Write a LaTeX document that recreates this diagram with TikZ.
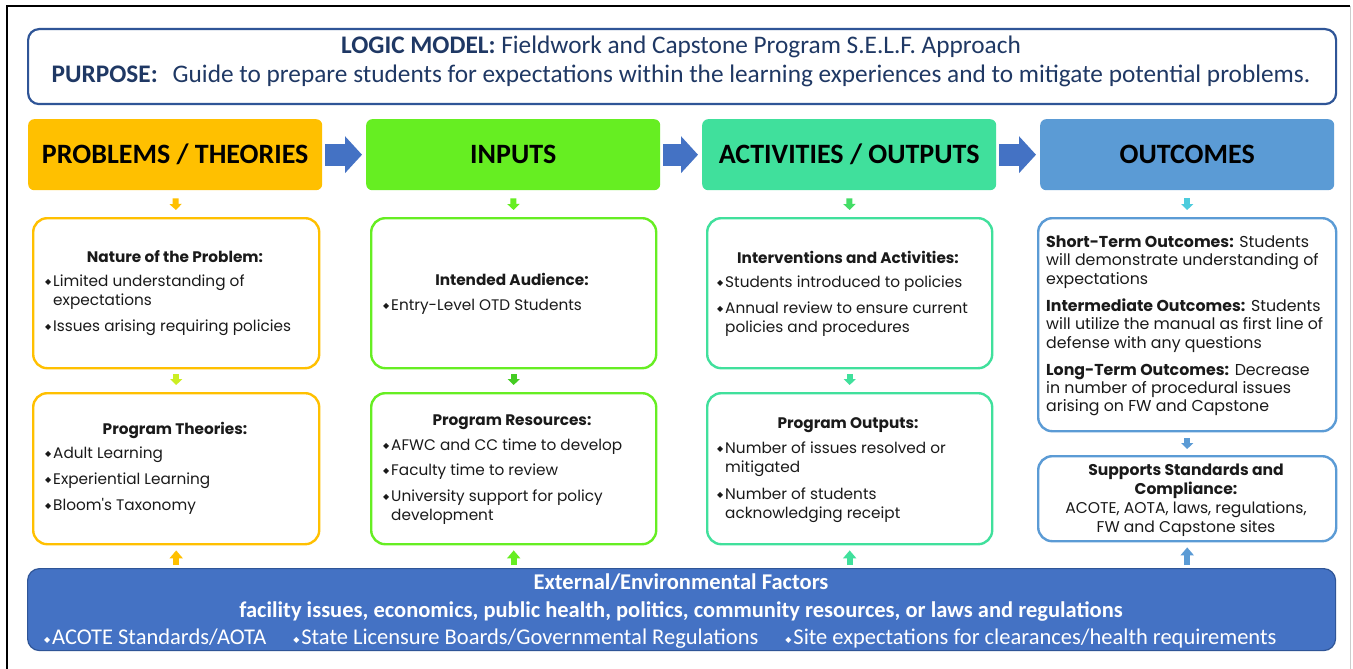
\documentclass[tikz,border=0pt]{standalone}
\usepackage{fontspec}
\setmainfont{Carlito}
\newfontfamily\bodyf{Poppins}
\newfontfamily\symf{DejaVu Sans}
\usetikzlibrary{arrows.meta}
\definecolor{tborder}{HTML}{2F5597}
\definecolor{ttext}{HTML}{1F3864}
\definecolor{cOrange}{HTML}{FFC000}
\definecolor{cGreen}{HTML}{66EE22}
\definecolor{cTeal}{HTML}{40E09C}
\definecolor{cBlue}{HTML}{5B9BD5}
\definecolor{cDark}{HTML}{4472C4}
\definecolor{cYG}{HTML}{CCEE22}
\definecolor{cG2}{HTML}{44CC22}
\definecolor{cG3}{HTML}{44DD66}
\definecolor{cCyan}{HTML}{4DCCDD}
\definecolor{txt}{HTML}{1A1A1A}
\newcommand\bl{\makebox[8pt][l]{\raisebox{1.3pt}{\symf\fontsize{8}{8}\selectfont ◆}}}
\newcommand\ind{\hspace*{8pt}}
\newcommand\tl[1]{\begin{tabular}[t]{@{}l@{}}#1\end{tabular}}
\newcommand\tc[1]{\begin{tabular}[t]{@{}c@{}}#1\end{tabular}}
\tikzset{
  header/.style={fill=#1, rounded corners=6, minimum width=294, minimum height=71, anchor=north west, inner sep=0,
    font=\fontsize{28}{30}\selectfont\bfseries, text=black},
  cbox/.style={draw=#1, line width=2.4, rounded corners=14, fill=white, anchor=north west, inner sep=0},
  btxt/.style={font=\bodyf\fontsize{15.3}{19}\selectfont, text=txt, inner sep=0},
  bhead/.style={font=\bodyf\fontsize{15.3}{19}\selectfont\bfseries, text=txt, inner sep=0},
  bigarr/.style={draw=cDark, line width=22, -{Triangle[width=36pt,length=17pt]}, shorten <=3pt, shorten >=4pt},
  smarr/.style={draw=#1, line width=6, -{Triangle[width=12pt,length=6pt]}},
  uparr/.style={draw=#1, line width=6, -{Triangle[width=13pt,length=8pt]}, shorten <=3pt, shorten >=5pt},
}
\begin{document}
\begin{tikzpicture}[x=1pt,y=-1pt]
\useasboundingbox (0,0) rectangle (1353,669);
\fill[white] (0,0) rectangle (1353,669);
\draw[black, line width=1.6] (7,669) -- (7,6) -- (1350,6);
\draw[black!20, line width=0.8] (1350,6) -- (1350,669);

% title
\node[draw=tborder, line width=2.2, rounded corners=11, minimum width=1308, minimum height=75, anchor=north west, inner sep=0] (title) at (27,28) {};
\node[text=ttext, font=\fontsize{25.3}{28}\selectfont, anchor=base] (t1) at (681,54) {\textbf{LOGIC MODEL:} Fieldwork and Capstone Program S.E.L.F. Approach};
\node[text=ttext, font=\fontsize{25.3}{28}\selectfont, anchor=base] (t2) at (681,83) {\textbf{PURPOSE:}\hspace{15pt}Guide to prepare students for expectations within the learning experiences and to mitigate potential problems.};

% headers
\node[header=cOrange] (h1) at (28,119) {PROBLEMS / THEORIES};
\node[header=cGreen] (h2) at (366,119) {INPUTS};
\node[header=cTeal] (h3) at (702,119) {ACTIVITIES / OUTPUTS};
\node[header=cBlue] (h4) at (1040,119) {OUTCOMES};
\draw[bigarr] (h1.east) -- (h2.west);
\draw[bigarr] (h2.east) -- (h3.west);
\draw[bigarr] (h3.east) -- (h4.west);

% row 1
\node[cbox=cOrange, minimum width=286, minimum height=150] (b1) at (32,217) {};
\node[cbox=cGreen, minimum width=285, minimum height=150] (b2) at (370,217) {};
\node[cbox=cTeal, minimum width=285, minimum height=150] (b3) at (706,217) {};
\node[cbox=cBlue, minimum width=298, minimum height=213] (b4) at (1037,217) {};
% row 2
\node[cbox=cOrange, minimum width=286, minimum height=151] (c1) at (32,392) {};
\node[cbox=cGreen, minimum width=285, minimum height=151] (c2) at (370,392) {};
\node[cbox=cTeal, minimum width=285, minimum height=151] (c3) at (706,392) {};
\node[cbox=cBlue, minimum width=298, minimum height=85] (c4) at (1037,455) {};

% bottom
\node[draw=tborder, fill=cDark, line width=1.2, rounded corners=12, minimum width=1308, minimum height=82, anchor=north west, inner sep=0] (ext) at (27,568) {};

% small arrows
\draw[smarr=cOrange, shorten <=8pt, shorten >=7pt] (h1.south) -- (b1.north);
\draw[smarr=cGreen, shorten <=8pt, shorten >=7pt] (h2.south) -- (b2.north);
\draw[smarr=cG3, shorten <=8pt, shorten >=7pt] (h3.south) -- (b3.north);
\draw[smarr=cCyan, shorten <=8pt, shorten >=7pt] (h4.south) -- (b4.north);
\draw[smarr=cYG, shorten <=5pt, shorten >=7pt] (b1.south) -- (c1.north);
\draw[smarr=cG2, shorten <=5pt, shorten >=7pt] (b2.south) -- (c2.north);
\draw[smarr=cTeal, shorten <=5pt, shorten >=7pt] (b3.south) -- (c3.north);
\draw[smarr=cBlue, shorten <=6pt, shorten >=6pt] (b4.south) -- (c4.north);
\draw[uparr=cOrange] (ext.north -| c1.south) -- (c1.south);
\draw[uparr=cGreen] (ext.north -| c2.south) -- (c2.south);
\draw[uparr=cTeal] (ext.north -| c3.south) -- (c3.south);
\draw[uparr=cBlue] (ext.north -| c4.south) -- (c4.south);

% texts column 1
\node[bhead, anchor=base] (b1h) at (175,262) {Nature of the Problem:};
\node[btxt, anchor=base west] (b1t) at (45,286) {\tl{\bl Limited understanding of\\\ind expectations\\[7pt]\bl Issues arising requiring policies}};
\node[bhead, anchor=base] (c1h) at (175,434) {Program Theories:};
\node[btxt, anchor=base west] (c1t) at (45,458) {\tl{\bl Adult Learning\\[7pt]\bl Experiential Learning\\[7pt]\bl Bloom's Taxonomy}};
% column 2
\node[bhead, anchor=base] (b2h) at (512,285) {Intended Audience:};
\node[btxt, anchor=base west] (b2t) at (383,310) {\tl{\bl Entry-Level OTD Students}};
\node[bhead, anchor=base] (c2h) at (512,425) {Program Resources:};
\node[btxt, anchor=base west] (c2t) at (383,450) {\tl{\bl AFWC and CC time to develop\\[6pt]\bl Faculty time to review\\[7pt]\bl University support for policy\\\ind development}};
% column 3
\node[bhead, anchor=base] (b3h) at (848,263) {Interventions and Activities:};
\node[btxt, anchor=base west] (b3t) at (717,287) {\tl{\bl Students introduced to policies\\[7pt]\bl Annual review to ensure current\\\ind policies and procedures}};
\node[bhead, anchor=base] (c3h) at (848,428) {Program Outputs:};
\node[btxt, anchor=base west] (c3t) at (717,453) {\tl{\bl Number of issues resolved or\\\ind mitigated\\[8pt]\bl Number of students\\\ind acknowledging receipt}};
% column 4
\node[btxt, anchor=base west, font=\bodyf\fontsize{15.8}{18.5}\selectfont] (b4t) at (1046,247) {\tl{\textbf{Short-Term Outcomes:} Students\\will demonstrate understanding of\\expectations\\[8.5pt]\textbf{Intermediate Outcomes:} Students\\will utilize the manual as first line of\\defense with any questions\\[8.5pt]\textbf{Long-Term Outcomes:} Decrease\\in number of procedural issues\\arising on FW and Capstone}};
\node[btxt, anchor=base, font=\bodyf\fontsize{15.6}{19}\selectfont] (c4t) at (1186,475) {\tc{\textbf{Supports Standards and}\\\textbf{Compliance:}\\ACOTE, AOTA, laws, regulations,\\FW and Capstone sites}};

% external text
\node[text=white, font=\fontsize{22.5}{25}\selectfont\bfseries, anchor=base] (e1) at (681,589) {External/Environmental Factors};
\node[text=white, font=\fontsize{22.5}{25}\selectfont\bfseries, anchor=base] (e2) at (681,617) {facility issues, economics, public health, politics, community resources, or laws and regulations};
\node[text=white, font=\fontsize{22.5}{25}\selectfont, anchor=base west, inner sep=0] (e3) at (44,644) {\bl ACOTE Standards/AOTA\hspace{27pt}\bl State Licensure Boards/Governmental Regulations\hspace{27pt}\bl Site expectations for clearances/health requirements};
\end{tikzpicture}
\end{document}
